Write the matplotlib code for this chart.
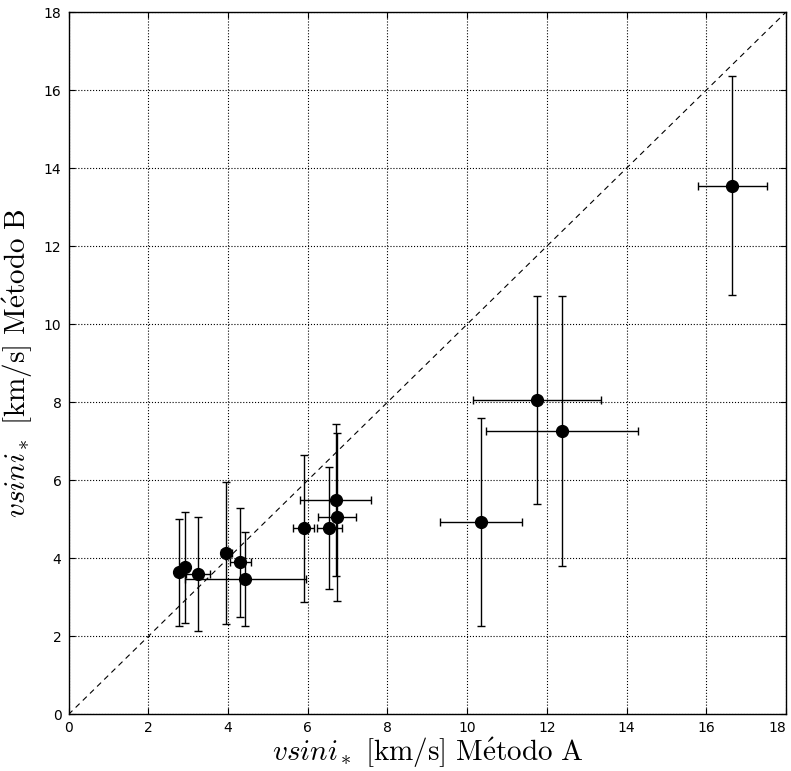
import matplotlib
matplotlib.use("Agg")
import matplotlib.pyplot as plt

# Rotational velocity estimates from the two methods (km/s)
vsini_a = [16.65, 11.76, 12.38, 10.34, 6.70, 6.74, 6.54, 5.90, 2.76, 2.93, 3.25, 3.96, 4.31, 4.44]
vsini_b = [13.55, 8.06, 7.27, 4.94, 5.50, 5.07, 4.77, 4.77, 3.65, 3.77, 3.61, 4.13, 3.90, 3.47]
err_a = [0.87, 1.60, 1.90, 1.03, 0.88, 0.47, 0.31, 0.26, 0.0, 0.0, 0.31, 0.13, 0.27, 1.52]
err_b = [2.80, 2.67, 3.46, 2.67, 1.94, 2.15, 1.56, 1.89, 1.37, 1.43, 1.46, 1.82, 1.39, 1.20]
one_to_one = [0, 18]
ticks = [0, 2, 4, 6, 8, 10, 12, 14, 16, 18]

plt.rcParams['mathtext.fontset'] = 'cm'

fig = plt.figure(figsize=(7.91, 7.71), dpi=100)
ax = fig.add_axes([0.0866, 0.0733, 0.9071, 0.9111])

ax.plot(one_to_one, one_to_one, linestyle='--', color='black', linewidth=0.8,
        dashes=(5, 4))
ax.errorbar(vsini_a, vsini_b, xerr=err_a, yerr=err_b, fmt='o', color='black',
            ecolor='black', elinewidth=1.0, capsize=3, capthick=1.0,
            markersize=8.5, zorder=3)

ax.set_xlim(0, 18)
ax.set_ylim(0, 18)
ax.set_xticks(ticks)
ax.set_yticks(ticks)
ax.grid(True, linestyle=':', color='black', linewidth=0.8)
ax.set_axisbelow(True)
ax.tick_params(direction='in', top=True, right=True, length=4, labelsize=10, pad=5)
for s in ax.spines.values():
    s.set_linewidth(1.0)

# keep the last x tick label inside the figure
xlabels = ax.get_xticklabels()
xlabels[-1].set_horizontalalignment('right')

ax.set_xlabel(r'$vsini_*\ \mathrm{[km/s]\ M\acute{e}todo\ A}$', fontsize=21, labelpad=0)
ax.set_ylabel(r'$vsini_*\ \mathrm{[km/s]\ M\acute{e}todo\ B}$', fontsize=21, labelpad=6)

fig.savefig('out.png', dpi=100)
